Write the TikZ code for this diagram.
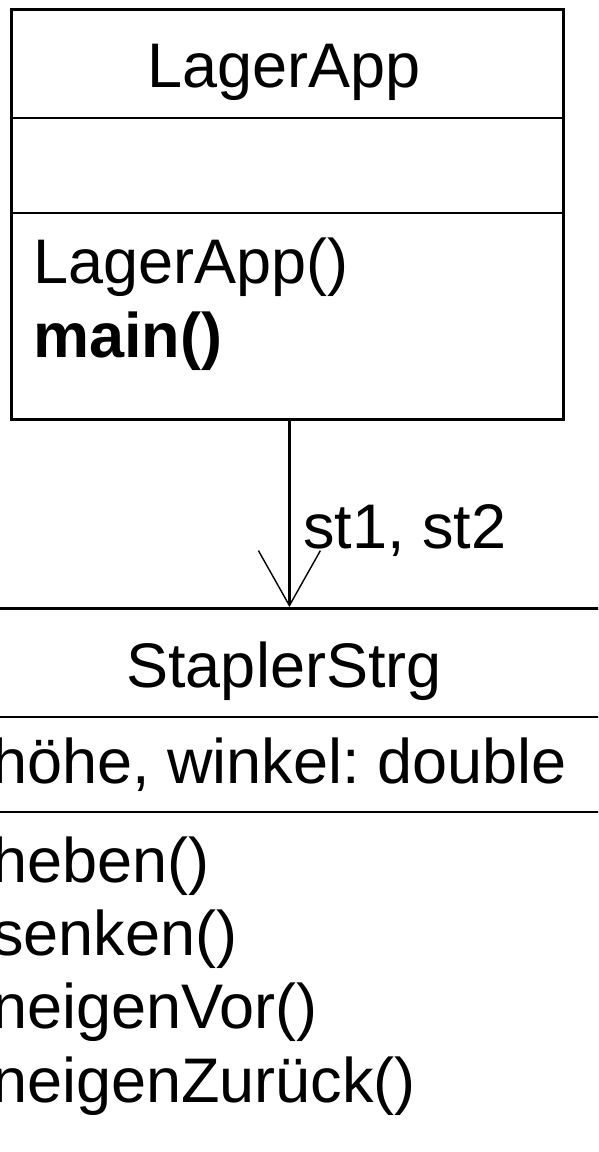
\documentclass[tikz,border=0pt]{standalone}
\usepackage{fontspec}
\setmainfont{Liberation Sans}
\usetikzlibrary{arrows.meta}
\frenchspacing

\begin{document}
\begin{tikzpicture}[x=1pt,y=-1pt,
  umlbox/.style={draw, line width=2.8pt, rectangle, inner sep=0pt, anchor=north west},
  divider/.style={line width=2.8pt},
  txt/.style={inner sep=0pt, font=\fontsize{63pt}{70pt}\selectfont},
  title/.style={txt, anchor=base},
  member/.style={txt, anchor=base west},
  assoc/.style={line width=2.5pt,
    -{Straight Barb[length=55pt, width=62pt, line width=1.4pt]}}]

\useasboundingbox (0,0) rectangle (598,1152);
\clip (0,0) rectangle (598,1152);
\fill[white] (0,0) rectangle (598,1152);

% class LagerApp
\node[umlbox, minimum width=552pt, minimum height=410pt] (app) at (10,8) {};
\draw[divider] (app.west |- 0,118) -- (app.east |- 0,118);
\draw[divider] (app.west |- 0,213) -- (app.east |- 0,213);
\node[title] (appname) at (284,87) {LagerApp};
\node[member] (appctor) at (33,283) {LagerApp()};
\node[member] (appmain) at (33,357) {\bfseries main()};

% class StaplerStrg (runs past the page edges)
\node[umlbox, minimum width=640pt, minimum height=600pt] (stapler) at (-25,607) {};
\draw[divider] (stapler.west |- 0,717) -- (stapler.east |- 0,717);
\draw[divider] (stapler.west |- 0,812) -- (stapler.east |- 0,812);
\node[title] (staplername) at (284,687) {StaplerStrg};
\node[member] (attrs) at (-8,783) {höhe, winkel: double};
\node[member] (m1) at (-8,882) {heben()};
\node[member] (m2) at (-8,955) {senken()};
\node[member] (m3) at (-8,1028) {neigenVor()};
\node[member] (m4) at (-8,1102) {neigenZurück()};

% directed association with role names
\coordinate (src) at ([xshift=2pt]app.south);
\draw[assoc] (src) -- (src |- stapler.north);
\node[member] (roles) at (303,548) {st1, st2};

\end{tikzpicture}
\end{document}
